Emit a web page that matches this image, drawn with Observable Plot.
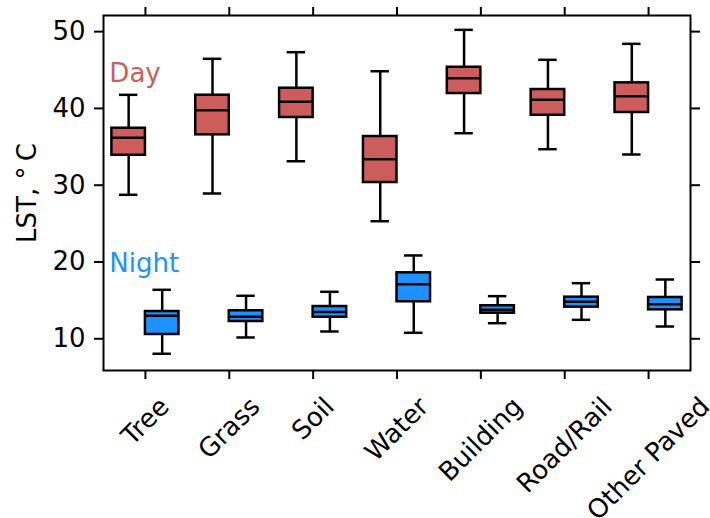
<!DOCTYPE html>
<html><head><meta charset="utf-8">
<script src="https://cdn.jsdelivr.net/npm/d3@7"></script>
<script src="https://cdn.jsdelivr.net/npm/@observablehq/plot@0.6"></script>
<style>body{margin:0;background:#fff}</style>
</head><body><div id="chart"></div>
<script>
const categories = ["Tree","Grass","Soil","Water","Building","Road/Rail","Other Paved"];
const dayLow  = [28.75, 28.92, 33.12, 25.31, 36.77, 34.69, 34.00];
const dayQ1   = [33.90, 36.56, 38.82, 30.35, 41.94, 39.11, 39.47];
const dayMed  = [36.17, 39.77, 40.86, 33.39, 43.93, 41.12, 41.59];
const dayQ3   = [37.42, 41.72, 42.63, 36.34, 45.36, 42.46, 43.33];
const dayHigh = [41.77, 46.46, 47.32, 44.84, 50.23, 46.33, 48.41];
const nightLow  = [8.05, 10.17, 10.95, 10.78, 12.03, 12.47, 11.60];
const nightQ1   = [10.56, 12.25, 12.81, 14.82, 13.33, 14.12, 13.77];
const nightMed  = [13.00, 12.86, 13.50, 17.11, 13.78, 14.82, 14.50];
const nightQ3   = [13.55, 13.65, 14.20, 18.59, 14.30, 15.42, 15.38];
const nightHigh = [16.38, 15.60, 16.12, 20.85, 15.55, 17.24, 17.72];
const yTicks = [10, 20, 30, 40, 50];
const seriesNames = ["Day", "Night"];
const seriesColors = ["#cd5c5c", "#1e90ff"];

const rows = [];
categories.forEach((c, i) => {
  rows.push({i, cat: c, series: "Day", low: dayLow[i], q1: dayQ1[i], med: dayMed[i], q3: dayQ3[i], high: dayHigh[i]});
  rows.push({i, cat: c, series: "Night", low: nightLow[i], q1: nightQ1[i], med: nightMed[i], q3: nightQ3[i], high: nightHigh[i]});
});
const center = d => d.i + (d.series === "Day" ? -0.2 : 0.2);
const FS = 26;
const LW = 2.5;
const ctx = document.createElement("canvas").getContext("2d");
ctx.font = `${FS}px 'DejaVu Sans'`;
const xLabelMarks = categories.map((c, i) => {
  const w = ctx.measureText(c).width;
  const H = (w + 0.95 * FS) * Math.SQRT1_2;
  return Plot.text([c], {x: [i], text: d => d, frameAnchor: "bottom", dy: 23 + H / 2,
    rotate: -45, textAnchor: "middle", lineAnchor: "middle", fontSize: FS, fill: "black"});
});

const chart = Plot.plot({
  width: 710, height: 518,
  marginLeft: 103, marginRight: 20, marginTop: 15, marginBottom: 148,
  style: {fontFamily: "'DejaVu Sans', sans-serif", background: "white", color: "black"},
  x: {domain: [-0.5, 6.5], axis: null},
  y: {domain: [5.87, 52.1], axis: null},
  color: {domain: seriesNames, range: seriesColors},
  marks: [
    Plot.ruleX(rows, {x: center, y1: "low", y2: "q1", stroke: "black", strokeWidth: LW}),
    Plot.ruleX(rows, {x: center, y1: "q3", y2: "high", stroke: "black", strokeWidth: LW}),
    Plot.ruleY(rows, {y: "low", x1: d => center(d) - 0.11, x2: d => center(d) + 0.11, stroke: "black", strokeWidth: LW}),
    Plot.ruleY(rows, {y: "high", x1: d => center(d) - 0.11, x2: d => center(d) + 0.11, stroke: "black", strokeWidth: LW}),
    Plot.rect(rows, {x1: d => center(d) - 0.2, x2: d => center(d) + 0.2, y1: "q1", y2: "q3", fill: "series", stroke: "black", strokeWidth: LW}),
    Plot.ruleY(rows, {y: "med", x1: d => center(d) - 0.2, x2: d => center(d) + 0.2, stroke: "black", strokeWidth: LW}),
    Plot.frame({stroke: "black", strokeWidth: 2}),
    Plot.axisY({anchor: "left", ticks: yTicks, tickSize: 9, tickPadding: 9, fontSize: FS, label: null, strokeWidth: 2}),
    Plot.axisY({anchor: "right", ticks: yTicks, tickSize: 9, tickFormat: () => "", label: null, strokeWidth: 2}),
    Plot.axisX({anchor: "bottom", ticks: d3.range(categories.length), tickSize: 9, tickFormat: () => "", label: null, strokeWidth: 2}),
    Plot.axisX({anchor: "top", ticks: d3.range(categories.length), tickSize: 9, tickFormat: () => "", label: null, strokeWidth: 2}),
    ...xLabelMarks,
    Plot.text(["Day"], {x: [-0.43], y: [43.4], text: d => d, textAnchor: "start", lineAnchor: "bottom", fontSize: FS, fill: seriesColors[0]}),
    Plot.text(["Night"], {x: [-0.43], y: [18.7], text: d => d, textAnchor: "start", lineAnchor: "bottom", fontSize: FS, fill: seriesColors[1]}),
    Plot.text(["LST, °\u2009C"], {frameAnchor: "left", dx: -76, rotate: -90, text: d => d, textAnchor: "middle", lineAnchor: "middle", fontSize: FS, fill: "black"})
  ]
});
document.getElementById("chart").appendChild(chart);
</script>
</body></html>
